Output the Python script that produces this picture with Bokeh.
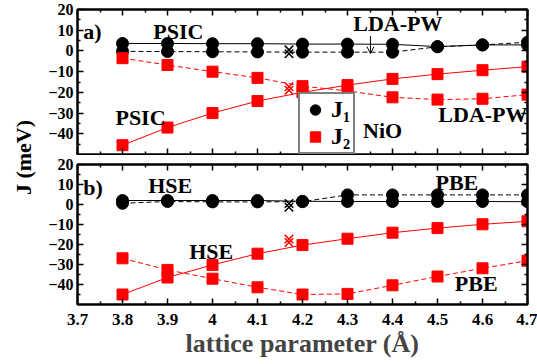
import numpy as np
from bokeh.plotting import figure
from bokeh.models import (Range1d, LinearAxis, FixedTicker, Label, Arrow, OpenHead,
                          Legend, LegendItem)
from bokeh.layouts import row, column
from bokeh.embed import file_html
from bokeh.resources import INLINE

# lattice parameters of the calculations (Angstrom)
lattice = [3.8, 3.9, 4.0, 4.1, 4.2, 4.3, 4.4, 4.5, 4.6, 4.7]

# panel a): PSIC (solid) and LDA-PW (dashed), meV
j1_psic = [3.6, 3.6, 3.5, 3.5, 3.3, 3.3, 3.2, 2.1, 2.9, 2.9]
j1_ldapw = [-0.2, -0.3, -0.4, -0.5, -0.6, -0.6, -0.6, 2.0, 2.9, 4.2]
j2_psic = [-45.5, -37.0, -30.0, -24.2, -20.0, -16.5, -13.5, -11.2, -9.3, -7.6]
j2_ldapw = [-3.5, -6.8, -10.0, -13.0, -17.0, -19.3, -22.4, -23.5, -23.1, -21.1]

# panel b): HSE (solid) and PBE (dashed), meV
j1_hse = [2.0, 2.0, 2.0, 2.0, 1.6, 1.5, 1.5, 1.5, 1.5, 1.4]
j1_pbe = [0.6, 1.5, 1.3, 1.3, 1.4, 4.8, 4.8, 4.8, 4.8, 4.8]
j2_hse = [-45.0, -36.5, -30.2, -24.6, -20.3, -17.1, -14.1, -11.8, -9.9, -8.4]
j2_pbe = [-26.9, -32.7, -37.1, -41.4, -45.0, -44.7, -40.4, -36.0, -31.9, -28.1]

# experimental values at the measured lattice parameter
exp_lattice = [4.17, 4.17]
exp_j1 = [0.5, -1.4]
exp_j2 = [-17.3, -19.0]

x_ticks = [3.7, 3.8, 3.9, 4.0, 4.1, 4.2, 4.3, 4.4, 4.5, 4.6, 4.7]
x_tick_labels = ["3.7", "3.8", "3.9", "4", "4.1", "4.2", "4.3", "4.4", "4.5", "4.6", "4.7"]
x_minor = [3.75, 3.85, 3.95, 4.05, 4.15, 4.25, 4.35, 4.45, 4.55, 4.65]
y_ticks = [-40, -30, -20, -10, 0, 10, 20]
y_minor = [-45, -35, -25, -15, -5, 5, 15]

FONT = "Liberation Serif"
RED = "#ff0000"
DASH = "5 3"

x_ticker = FixedTicker(ticks=x_ticks, minor_ticks=x_minor)
y_ticker = FixedTicker(ticks=y_ticks, minor_ticks=y_minor)


def frame_axis(ticker, label_size=None):
    return LinearAxis(
        ticker=ticker, axis_line_width=2, axis_line_color="black",
        major_tick_in=6, major_tick_out=0, minor_tick_in=3, minor_tick_out=0,
        major_tick_line_width=1.5, minor_tick_line_width=1.5,
        major_label_text_font=FONT, major_label_text_font_style="bold",
        major_label_text_color="black",
        major_label_text_font_size=label_size or "0px",
        major_label_standoff=4 if label_size else 0,
    )


def panel(height, border_top, border_bottom, x_labels):
    p = figure(width=499, height=height, x_range=Range1d(3.7, 4.7), y_range=Range1d(-50, 20),
               x_axis_location=None, y_axis_location=None,
               output_backend="svg", toolbar_location=None,
               min_border_left=39, min_border_right=10,
               min_border_top=border_top, min_border_bottom=border_bottom,
               outline_line_color="black", outline_line_width=2,
               background_fill_color="white", border_fill_color="white")
    p.grid.grid_line_color = None
    p.add_layout(frame_axis(y_ticker, "16px"), "left")
    p.add_layout(frame_axis(y_ticker), "right")
    p.add_layout(frame_axis(x_ticker), "above")
    below = frame_axis(x_ticker, "17px" if x_labels else None)
    if x_labels:
        below.major_label_standoff = 9
        below.major_label_overrides = dict(zip(x_ticks, x_tick_labels))
        below.axis_label = "lattice parameter (Å)"
        below.axis_label_text_font = FONT
        below.axis_label_text_font_style = "bold"
        below.axis_label_text_font_size = "26px"
        below.axis_label_standoff = 1
    p.add_layout(below, "below")
    return p


def curve(p, y, color, dash, marker, size):
    p.line(lattice, y, line_color=color, line_width=1, line_dash=dash)
    return p.scatter(lattice, y, marker=marker, size=size, fill_color=color, line_color=color)


def experiment(p):
    p.scatter(exp_lattice, exp_j1, marker="x", size=12, line_color="black", line_width=1.5)
    p.scatter(exp_lattice, exp_j2, marker="x", size=12, line_color=RED, line_width=1.5)


def note(p, x, y, text, align="center"):
    p.add_layout(Label(x=x, y=y, text=text, text_font=FONT, text_font_style="bold",
                       text_font_size="22px", text_align=align, text_baseline="middle",
                       text_color="black"))


# ---- panel a)
top = panel(155, 9, 1, False)
curve(top, j1_ldapw, "black", DASH, "circle", 12)
c1 = curve(top, j1_psic, "black", "solid", "circle", 12)
curve(top, j2_ldapw, RED, DASH, "square", 11)
s1 = curve(top, j2_psic, RED, "solid", "square", 11)
experiment(top)
note(top, 3.713, 9.6, "a)", "left")
note(top, 3.924, 9.6, "PSIC")
note(top, 3.84, -32.0, "PSIC")
note(top, 4.412, 13.4, "LDA-PW")
note(top, 4.601, -30.6, "LDA-PW")
note(top, 4.378, -38.6, "NiO")
top.add_layout(Arrow(end=OpenHead(size=7, line_width=1, line_color="black"),
                     x_start=4.351, y_start=7.2, x_end=4.351, y_end=-1.3,
                     line_width=1, line_color="black"))
legend = Legend(items=[LegendItem(label="J\u2081", renderers=[c1]),
                       LegendItem(label="J\u2082", renderers=[s1])],
                location=(221, 0), orientation="vertical",
                border_line_color="black", border_line_width=2,
                background_fill_color="white", background_fill_alpha=1.0,
                padding=2, spacing=0, margin=0,
                glyph_width=26, glyph_height=27, label_height=27, label_standoff=3,
                label_text_font=FONT, label_text_font_style="bold",
                label_text_font_size="24px", label_text_color="black")
top.add_layout(legend, "center")

# ---- panel b)
bottom = panel(209, 9, 60, True)
curve(bottom, j1_pbe, "black", DASH, "circle", 12)
curve(bottom, j1_hse, "black", "solid", "circle", 12)
curve(bottom, j2_pbe, RED, DASH, "square", 11)
curve(bottom, j2_hse, RED, "solid", "square", 11)
experiment(bottom)
note(bottom, 3.713, 8.5, "b)", "left")
note(bottom, 3.906, 9.5, "HSE")
note(bottom, 3.997, -23.4, "HSE")
note(bottom, 4.543, 10.9, "PBE")
note(bottom, 4.586, -39.6, "PBE")

# ---- shared y-axis title
ylab = figure(width=38, height=364, x_range=Range1d(0, 38), y_range=Range1d(0, 364),
              x_axis_location=None, y_axis_location=None, outline_line_color=None,
              min_border=0, output_backend="svg", toolbar_location=None,
              border_fill_color="white", background_fill_color="white")
ylab.grid.grid_line_color = None
ylab.add_layout(Label(x=22.5, y=207, text="J (meV)", angle=np.pi / 2,
                      text_font=FONT, text_font_style="bold", text_font_size="22px",
                      text_align="center", text_baseline="middle", text_color="black"))

layout = row(ylab, column(top, bottom))
open("out.html", "w").write(file_html(layout, INLINE, title="NiO exchange constants"))
